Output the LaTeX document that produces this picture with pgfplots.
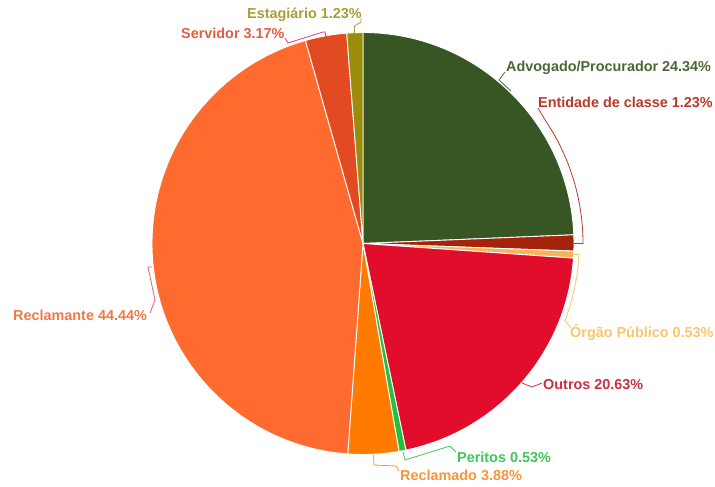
\documentclass[border=0pt]{standalone}
\usepackage{pgfplots}
\pgfplotsset{compat=1.18}
\usepackage{fontspec}
\setmainfont{Liberation Sans}
\definecolor{cAdv}{HTML}{375623}
\definecolor{cEnt}{HTML}{A3230B}
\definecolor{cOrg}{HTML}{F7B45A}
\definecolor{cOut}{HTML}{E10D2B}
\definecolor{cPer}{HTML}{22C03C}
\definecolor{cRdo}{HTML}{FF7B00}
\definecolor{cRte}{HTML}{FF6A2E}
\definecolor{cSer}{HTML}{E24B22}
\definecolor{cEst}{HTML}{9B8D0C}
\definecolor{tAdv}{HTML}{4A6836}
\definecolor{tEnt}{HTML}{B8392A}
\definecolor{tOrg}{HTML}{F6C66E}
\definecolor{tOut}{HTML}{CD2E45}
\definecolor{tPer}{HTML}{3EC75A}
\definecolor{tRdo}{HTML}{F6963A}
\definecolor{tRte}{HTML}{F27848}
\definecolor{tSer}{HTML}{E65C42}
\definecolor{tEst}{HTML}{A69E38}
\definecolor{lRte}{HTML}{E0607A}
\definecolor{lSer}{HTML}{E0406A}
\begin{document}
\begin{tikzpicture}
\begin{axis}[scale only axis, width=715pt, height=487pt,
  xmin=0, xmax=715, ymin=0, ymax=487, hide axis, clip=false]
\addplot[draw=none] coordinates {(0,0) (715,487)};
\def\cx{363}\def\cy{243.5}\def\R{211}
\def\cum{0}
\pgfplotsforeachungrouped \v/\c in {24.34/cAdv,1.23/cEnt,0.53/cOrg,20.63/cOut,0.53/cPer,3.88/cRdo,44.44/cRte,3.17/cSer,1.23/cEst}{%
  \pgfmathsetmacro\sa{90-360/99.98*\cum}%
  \pgfmathsetmacro\cum{\cum+\v}%
  \pgfmathsetmacro\ea{90-360/99.98*\cum}%
  \pgfmathsetmacro\sx{\cx+\R*cos(\sa)}%
  \pgfmathsetmacro\sy{\cy+\R*sin(\sa)}%
  \edef\temp{\noexpand\filldraw[fill=\c, draw=white, line width=0.9pt, line join=round] (axis cs:\cx,\cy) -- (axis cs:\sx,\sy) arc[start angle=\sa, end angle=\ea, radius=\R pt] -- cycle;}%
  \temp
}
% leader lines
\draw[tEst, line width=0.8pt] (axis cs:354.5,453) -- (axis cs:354.5,461) -- (axis cs:361,465) -- (axis cs:361,469);
\draw[lSer, line width=0.8pt] (axis cs:326,450) -- (axis cs:325,455) -- (axis cs:323,455) -- (axis cs:288,444) -- (axis cs:285,449);
\draw[tAdv, line width=0.8pt] (axis cs:511,396) -- (axis cs:499,407) -- (axis cs:505,415);
\draw[tEnt, line width=0.8pt] (axis cs:574,243.5) -- (axis cs:583,243.5) arc[start angle=0, end angle=34, radius=220pt] -- (axis cs:538,379);
\draw[tOrg, line width=0.8pt] (axis cs:574,232.5) -- (axis cs:579,232.5) arc[start angle=-3, end angle=-21, radius=216pt] -- (axis cs:571,159);
\draw[tOut, line width=0.8pt] (axis cs:522,104) -- (axis cs:532,100) -- (axis cs:542,104);
\draw[tPer, line width=0.8pt] (axis cs:403,35) -- (axis cs:405,27) -- (axis cs:450,41) -- (axis cs:456,35);
\draw[tRdo, line width=0.8pt] (axis cs:373.5,32) -- (axis cs:374,22) -- (axis cs:396,21) -- (axis cs:399,16);
\draw[lRte, line width=0.8pt] (axis cs:152,220) -- (axis cs:148,220) -- (axis cs:155,187) -- (axis cs:150,174);
% labels
\tikzset{lab/.style={anchor=west, inner sep=0pt, font=\bfseries\fontsize{14.4}{17}\selectfont}}
\node[lab, text=tEst] at (axis cs:247,472) {Estagiário 1.23\%};
\node[lab, text=tSer] at (axis cs:181,454) {Servidor 3.17\%};
\node[lab, text=tAdv] at (axis cs:506,419) {Advogado/Procurador 24.34\%};
\node[lab, text=tEnt] at (axis cs:538,385) {Entidade de classe 1.23\%};
\node[lab, text=tOrg] at (axis cs:570,154) {Órgão Público 0.53\%};
\node[lab, text=tOut] at (axis cs:543,102) {Outros 20.63\%};
\node[lab, text=tPer] at (axis cs:457,30) {Peritos 0.53\%};
\node[lab, text=tRdo] at (axis cs:400,12) {Reclamado 3.88\%};
\node[lab, text=tRte] at (axis cs:13,172) {Reclamante 44.44\%};
\end{axis}
\end{tikzpicture}
\end{document}
